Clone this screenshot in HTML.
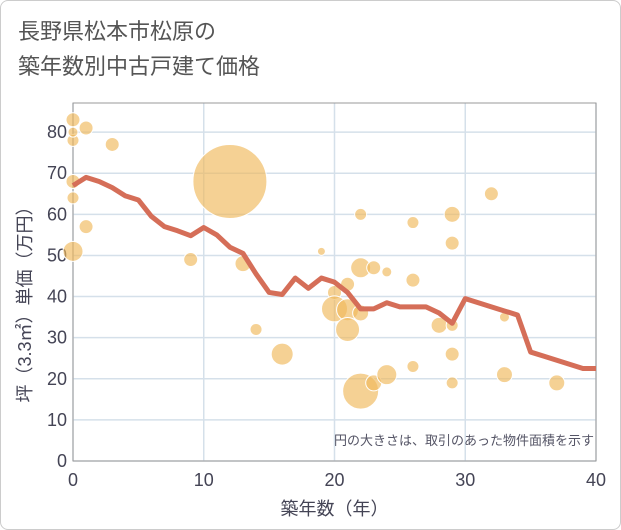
<!DOCTYPE html>
<html><head><meta charset="utf-8"><style>
body{margin:0;background:#fff;}
.wrap{position:relative;width:621px;height:530px;font-family:"Liberation Sans","Noto Sans CJK JP",sans-serif;}
.frame{position:absolute;left:0;top:0;width:619px;height:528px;border:1px solid #ccc;border-radius:8px;}
.title{position:absolute;left:18px;top:14px;font-size:22px;line-height:35px;color:#555;}
svg{position:absolute;left:0;top:0;}
</style></head><body>
<div class="wrap">
<div class="frame"></div>
<div class="title">長野県松本市松原の<br>築年数別中古戸建て価格</div>
<svg id="chart" width="621" height="530"></svg>
</div>
<script>
const xTicks=[0,10,20,30,40];
const yTicks=[0,10,20,30,40,50,60,70,80];
const lineYears=[0,1,2,3,4,5,6,7,8,9,10,11,12,13,14,15,16,17,18,19,20,21,22,23,24,25,26,27,28,29,30,31,32,33,34,35,36,37,38,39,40];
const lineValues=[67,69,68,66.5,64.5,63.5,59.5,57,56,54.8,56.8,55,52,50.5,45.5,41,40.5,44.5,42,44.5,43.5,41,37,37,38.5,37.5,37.5,37.5,36,33.5,39.5,38.5,37.5,36.5,35.5,26.5,25.5,24.5,23.5,22.5,22.5];
const bubbleYears=[0,1,0,3,0,0,1,0,9,12,13,14,16,19,22,22,23,24,26,21,20,20,21,22,21,22,23,24,26,26,29,29,32,28,29,29,29,33,33,37,0];
const bubbleValues=[83,81,78,77,68,64,57,51,49,68,48,32,26,51,60,47,47,46,44,43,41,37,36.8,36,32,17,19,21,23,58,60,53,65,33,33,26,19,35,21,19,80];
const bubbleSizes=[7,7,6,7,7,6,7,10,7,37,8,6,11,4,6,10,7,5,7,7,7,13,11,8,12,18,8,10,6,6,8,7,7,8,6,7,6,5,8,8,5];
const X0=73,X1=596,Y0=461,YT=103;
const xs=v=>X0+(v/40)*(X1-X0);
const ys=v=>Y0-v*4.111;
const svg=document.getElementById('chart');
const NS='http://www.w3.org/2000/svg';
function mk(t,a){const e=document.createElementNS(NS,t);for(const k in a)e.setAttribute(k,a[k]);svg.appendChild(e);return e;}
yTicks.forEach(v=>{
 const l=mk('line',{x1:X0,x2:X1,y1:ys(v),y2:ys(v),stroke:'#d5e0ea','stroke-width':1.5});
 
 
 const t=mk('text',{x:X0-6,y:ys(v)+6,'text-anchor':'end','font-size':18,fill:'#445'});
 t.textContent=v;
 
 
});
xTicks.forEach(v=>{
 const l=mk('line',{x1:xs(v),x2:xs(v),y1:YT,y2:Y0,stroke:'#d5e0ea','stroke-width':1.5});
 
 
 const t=mk('text',{x:xs(v),y:Y0+25,'text-anchor':'middle','font-size':18,fill:'#445'});
 t.textContent=v;
 
 
});
const border=mk('rect',{x:X0,y:YT,width:X1-X0,height:Y0-YT,fill:'none',stroke:'#999','stroke-width':1});


bubbleYears.forEach((yr,i)=>{
 const c=mk('circle',{cx:xs(yr),cy:ys(bubbleValues[i]),r:bubbleSizes[i],fill:'rgba(240,185,90,0.65)',stroke:'#fff','stroke-width':1});
 
 
});
const pts=lineYears.map((yr,i)=>xs(yr)+','+ys(lineValues[i])).join(' ');
const pl=mk('polyline',{points:pts,fill:'none',stroke:'#d56e58','stroke-width':5,'stroke-linejoin':'round'});


const note=mk('text',{x:594,y:445,'text-anchor':'end','font-size':13,fill:'#556'});
note.textContent='円の大きさは、取引のあった物件面積を示す';


const xt=mk('text',{x:(X0+X1)/2,y:515,'text-anchor':'middle','font-size':18,fill:'#445'});
xt.textContent='築年数（年）';


const yt=mk('text',{x:0,y:0,'text-anchor':'middle','font-size':18,fill:'#445',transform:'translate(31,300) rotate(-90)'});
yt.textContent='坪（3.3㎡）単価（万円）';


</script>
</body></html>
